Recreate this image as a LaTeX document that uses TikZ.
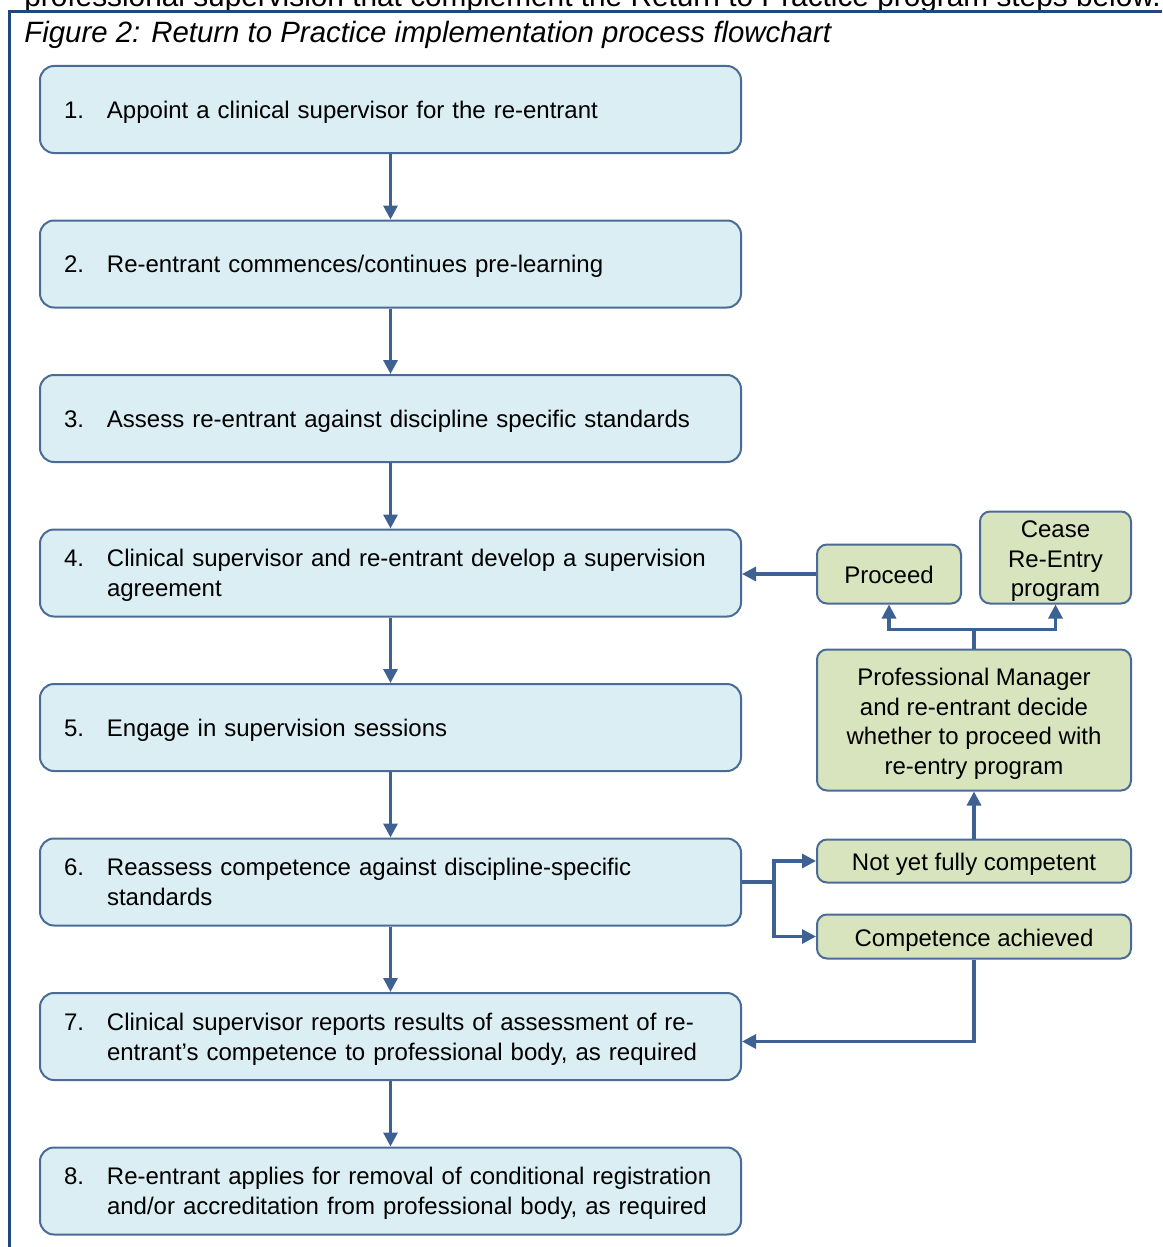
\documentclass[tikz,border=0pt]{standalone}
\usepackage{fontspec}
\setmainfont{Liberation Sans}
\usepackage{tikz}
\usetikzlibrary{arrows.meta,calc,positioning,shapes}

\definecolor{bluefill}{HTML}{DAEEF3}
\definecolor{greenfill}{HTML}{D7E4BD}
\definecolor{boxline}{HTML}{4A6B96}
\definecolor{arrowline}{HTML}{3D6192}
\definecolor{frameline}{HTML}{1F497D}

\newcommand{\numstep}[2]{\raisebox{-1.4pt}[\height][\depth]{\begin{tabular}[t]{@{}p{21.5pt}@{}}#1\end{tabular}\begin{tabular}[t]{@{}l@{}}#2\end{tabular}}}
\newcommand{\choicetext}[1]{\raisebox{-2pt}[\height][\depth]{\begin{tabular}{@{}c@{}}#1\end{tabular}}}

\begin{document}
\begin{tikzpicture}[auto,>={Triangle[length=7pt,width=7pt]},x=0.5pt,y=-0.5pt]
	\tikzstyle{block} = [draw=boxline, line width=1pt, fill=bluefill, rectangle, rounded corners=7pt, text width=326.5pt, inner xsep=12pt, minimum height=43.5pt, align=left, font=\fontsize{12}{15}\selectfont]
	\tikzstyle{choice} = [draw=boxline, line width=1pt, fill=greenfill, rectangle, rounded corners=5pt, inner xsep=2pt, inner ysep=0pt, align=center, font=\fontsize{12}{14.75}\selectfont]
	\tikzstyle{line} = [draw=arrowline, line width=1.6pt]

	\useasboundingbox (0,0) rectangle (1162,1247);
	\clip (0,0) rectangle (1162,1247);

	% page text and frame
	\node [anchor=base west, inner sep=0pt, font=\fontsize{14.9}{17}\selectfont] (pagetext) at (24,7) {professional supervision that complement the Return to Practice program steps below.};
	\draw [frameline, line width=1.5pt] (9.5,1247) -- (9.5,12) -- (1162,12);
	\node [anchor=base west, inner sep=0pt, font=\fontsize{14.7}{17}\itshape] (caption) at (24,43) {Figure 2: Return to Practice implementation process flowchart};

	% main steps
	\node [block] (s1) at (390.5,109.5) {\numstep{1.}{Appoint a clinical supervisor for the re-entrant}};
	\node [block, below = 32.75pt of s1] (s2) {\numstep{2.}{Re-entrant commences/continues pre-learning}};
	\node [block, below = 32.75pt of s2] (s3) {\numstep{3.}{Assess re-entrant against discipline specific standards}};
	\node [block, below = 32.75pt of s3] (s4) {\numstep{4.}{Clinical supervisor and re-entrant develop a supervision\\agreement}};
	\node [block, below = 32.75pt of s4] (s5) {\numstep{5.}{Engage in supervision sessions}};
	\node [block, below = 32.75pt of s5] (s6) {\numstep{6.}{Reassess competence against discipline-specific\\standards}};
	\node [block, below = 32.75pt of s6] (s7) {\numstep{7.}{Clinical supervisor reports results of assessment of re-\\entrant's competence to professional body, as required}};
	\node [block, below = 32.75pt of s7] (s8) {\numstep{8.}{Re-entrant applies for removal of conditional registration\\and/or accreditation from professional body, as required}};

	% side branch
	\node [choice, minimum width=157pt, minimum height=21.5pt, right = 37pt of s6, yshift=10.5pt] (notyet) {\choicetext{Not yet fully competent}};
	\node [choice, minimum width=157pt, minimum height=22pt, below = 15pt of notyet] (achieved) {\choicetext{Competence achieved}};
	\node [choice, minimum width=157pt, minimum height=70.5pt, above = 23.5pt of notyet] (decide) {\choicetext{Professional Manager\\and re-entrant decide\\whether to proceed with\\re-entry program}};
	\node [choice, minimum width=72pt, minimum height=29.5pt, above = 22pt of decide.north west, anchor=south west] (proceed) {\choicetext{Proceed}};
	\node [choice, minimum width=75.5pt, minimum height=46pt, above = 22pt of decide.north east, anchor=south east] (cease) {\choicetext{Cease\\Re-Entry\\program}};
	\node [coordinate, above = 9.5pt of decide] (fork) {};
	\node [coordinate, right = 16pt of s6] (split) {};

	\draw [line, ->] (s1) -- (s2);
	\draw [line, ->] (s2) -- (s3);
	\draw [line, ->] (s3) -- (s4);
	\draw [line, ->] (s4) -- (s5);
	\draw [line, ->] (s5) -- (s6);
	\draw [line, ->] (s6) -- (s7);
	\draw [line, ->] (s7) -- (s8);
	\draw [line, -] (s6) -- (split);
	\draw [line, ->] (split) |- (notyet);
	\draw [line, ->] (split) |- (achieved);
	\draw [line, ->] (notyet) -- (decide);
	\draw [line, -] (decide) -- (fork);
	\draw [line, ->] (fork) -| (proceed);
	\draw [line, ->] (fork) -| (cease);
	\draw [line, ->] (proceed.west) -- (proceed.west -| s4.east);
	\draw [line, ->] (achieved) |- ($(s7.east)+(0,-2.5pt)$);
\end{tikzpicture}
\end{document}
